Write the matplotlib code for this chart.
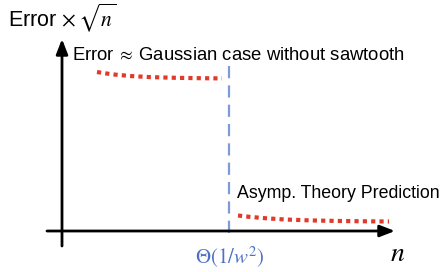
import numpy as np
import matplotlib.pyplot as plt

# Sketch coordinates (canvas units, y grows downward)
pre_n = [97, 105, 115, 130, 150, 175, 200, 222]
pre_err = [72.0, 73.3, 74.6, 76.0, 77.1, 77.8, 78.2, 78.4]
post_n = [238, 250, 265, 285, 310, 340, 365, 389]
post_err = [215.5, 216.9, 218.2, 219.5, 220.4, 221.0, 221.3, 221.5]
threshold_n = 229

RED = '#e03a2b'
BLUE = '#7d9bd4'
BLUE_TXT = '#4d72c4'

plt.rcParams['font.family'] = ['Liberation Sans', 'DejaVu Sans']
plt.rcParams['mathtext.fontset'] = 'stix'

fig = plt.figure(figsize=(4.48, 2.72), dpi=100)
ax = fig.add_axes([0, 0, 1, 1])
ax.set_xlim(0, 448)
ax.set_ylim(272, 0)
ax.axis('off')

# axes arrows
ax.annotate('', xy=(395, 231), xytext=(47, 231),
            arrowprops=dict(arrowstyle='-|>,head_length=0.9,head_width=0.35', lw=2, color='black',
                            shrinkA=0, shrinkB=0))
ax.annotate('', xy=(62, 39), xytext=(62, 246),
            arrowprops=dict(arrowstyle='-|>,head_length=0.9,head_width=0.35', lw=2, color='black',
                            shrinkA=0, shrinkB=0))

# threshold
ax.plot([threshold_n, threshold_n], [66, 237], color=BLUE, lw=1.6, linestyle=(0, (5.5, 3.2)))

# curves
ax.plot(pre_n, pre_err, color=RED, lw=3, linestyle=(0, (1, 1)), dash_capstyle='butt')
ax.plot(post_n, post_err, color=RED, lw=3, linestyle=(0, (1, 1)), dash_capstyle='butt')

# labels
ax.text(8, 18, r'Error$\,\times\sqrt{n}$', fontsize=15.5, va='center', ha='left')
ax.text(72, 56, r'Error$\;\approx\;$Gaussian case without sawtooth', fontsize=13.3,
        va='center', ha='left')
ax.text(237, 193, 'Asymp. Theory Prediction', fontsize=12.8, va='center', ha='left')
ax.text(230, 257, r'$\Theta(1/w^2)$', fontsize=15, color=BLUE_TXT, va='center', ha='center')
ax.text(398, 254, r'$n$', fontsize=20, va='center', ha='center')

fig.savefig('out.png', dpi=100)
